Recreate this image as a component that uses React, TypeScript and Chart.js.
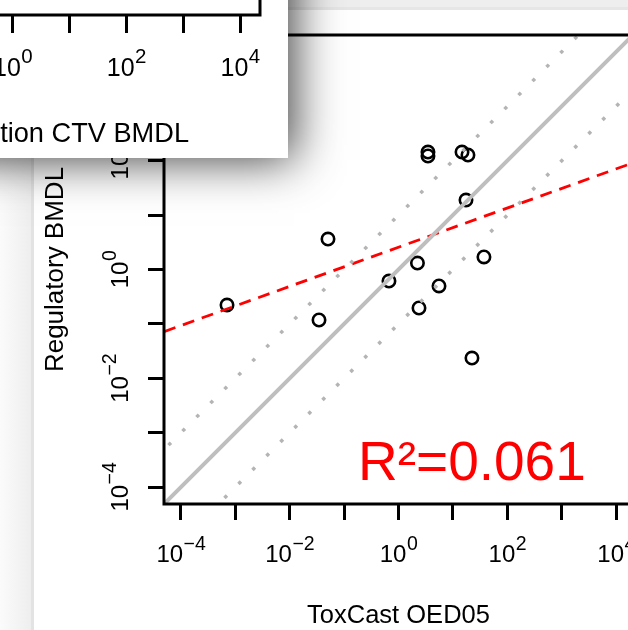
import React, { useEffect, useRef } from "react";
import { Chart, registerables } from "chart.js";

Chart.register(...registerables);

// ---------- data ----------
const toxcastOED05 = [7.05e-4, 0.0346, 0.0506, 0.668, 2.23, 2.38, 5.55, 22.4, 17.4, 37.2, 3.48, 3.48, 14.7, 18.9];
const regulatoryBMDL = [0.222, 0.118, 3.63, 0.614, 1.315, 0.196, 0.498, 0.0236, 18.9, 1.7, 144, 122, 144, 127];

// reference lines (x = y, and one decade either side)
const refLineX = [1e-5, 1e5];
const identityY = [1e-5, 1e5];
const upperDottedY = [1e-4, 1e6];
const lowerDottedY = [1e-6, 1e4];
// fitted regression line (dashed red), end values
const fitLineX = [1e-5, 1e5];
const fitLineY = [0.0407, 162];

const axisMinExp = -4.31;
const axisMaxExp = 4.31;
const decadeExponents = [-4, -3, -2, -1, 0, 1, 2, 3, 4];
const labelExponents = [-4, -2, 0, 2, 4];

const xTitle = "ToxCast OED05";
const yTitle = "Regulatory BMDL";
const rSquaredLabel = "R\u00B2=0.061";

// inset panel (partially visible)
const insetMinExp = -0.192;
const insetMaxExp = 4.349;
const insetDecades = [0, 1, 2, 3, 4];
const insetLabelExponents = [0, 2, 4];
const insetTitle = "Prediction CTV BMDL";

const FONT = '"Liberation Sans", Arial, Helvetica, sans-serif';

function expText(e: number) {
  return e < 0 ? "\u2212" + Math.abs(e) : String(e);
}

function drawPow(
  ctx: CanvasRenderingContext2D,
  e: number,
  cx: number,
  baseline: number,
  baseSize: number,
  supSize: number,
  raise: number
) {
  ctx.font = `${baseSize}px ${FONT}`;
  const wb = ctx.measureText("10").width;
  ctx.font = `${supSize}px ${FONT}`;
  const sup = expText(e);
  const ws = ctx.measureText(sup).width;
  const start = cx - (wb + ws) / 2;
  ctx.textAlign = "left";
  ctx.textBaseline = "alphabetic";
  ctx.font = `${baseSize}px ${FONT}`;
  ctx.fillText("10", start, baseline);
  ctx.font = `${supSize}px ${FONT}`;
  ctx.fillText(sup, start + wb + 0.5, baseline - raise);
}

export default function App() {
  const mainRef = useRef<HTMLCanvasElement | null>(null);
  const insetRef = useRef<HTMLCanvasElement | null>(null);

  useEffect(() => {
    document.body.style.margin = "0";
    const mainCanvas = mainRef.current!;
    const insetCanvas = insetRef.current!;

    const bgPlugin = {
      id: "bg",
      beforeDraw(chart: any) {
        const ctx: CanvasRenderingContext2D = chart.ctx;
        const w = chart.width;
        const h = chart.height;
        ctx.save();
        ctx.fillStyle = "#ffffff";
        ctx.fillRect(0, 0, w, h);
        const g = ctx.createLinearGradient(0, 0, 31, 0);
        g.addColorStop(0, "#fbfbfb");
        g.addColorStop(1, "#eeeeee");
        ctx.fillStyle = g;
        ctx.fillRect(0, 0, 31, h);
        ctx.fillStyle = "#e3e3e3";
        ctx.fillRect(31, 0, 3, h);
        ctx.fillStyle = "#eeeeee";
        ctx.fillRect(0, 0, w, 8);
        ctx.fillStyle = "#e6e6e6";
        ctx.fillRect(0, 7, w, 3);
        // shadow of the inset panel
        ctx.shadowColor = "rgba(0,0,0,0.75)";
        ctx.shadowBlur = 44;
        ctx.shadowOffsetX = 6;
        ctx.shadowOffsetY = 2;
        ctx.fillStyle = "#ffffff";
        ctx.fillRect(-300, -300, 288 + 300, 158 + 300);
        ctx.restore();
      },
    };

    const labelPlugin = {
      id: "labels",
      afterDraw(chart: any) {
        const ctx: CanvasRenderingContext2D = chart.ctx;
        const { left, right, top, bottom } = chart.chartArea;
        const xs = chart.scales.x;
        const ys = chart.scales.y;
        ctx.save();
        ctx.strokeStyle = "#000";
        ctx.lineWidth = 3;
        ctx.strokeRect(left, top, right - left, bottom - top);
        ctx.fillStyle = "#000";
        labelExponents.forEach((e) => {
          const px = xs.getPixelForValue(10 ** e);
          drawPow(ctx, e, px, bottom + 58, 24, 19.5, 12);
        });
        labelExponents.forEach((e) => {
          const py = ys.getPixelForValue(10 ** e);
          ctx.save();
          ctx.translate(left - 36, py);
          ctx.rotate(-Math.PI / 2);
          drawPow(ctx, e, 0, 0, 24, 19.5, 12);
          ctx.restore();
        });
        ctx.font = `25.5px ${FONT}`;
        ctx.textAlign = "center";
        ctx.textBaseline = "alphabetic";
        ctx.fillText(xTitle, (left + right) / 2, bottom + 119);
        ctx.save();
        ctx.translate(left - 101, (top + bottom) / 2);
        ctx.rotate(-Math.PI / 2);
        ctx.font = `26px ${FONT}`;
        ctx.fillText(yTitle, 0, 0);
        ctx.restore();
        ctx.fillStyle = "#ff0000";
        ctx.font = `55px ${FONT}`;
        ctx.textAlign = "left";
        ctx.fillText(rSquaredLabel, 358, 480);
        ctx.restore();
      },
    };

    const decadeTicks = (exps: number[]) => (scale: any) => {
      scale.ticks = exps.map((e) => ({ value: 10 ** e }));
    };

    const line = (xv: number[], yv: number[], extra: any) => ({
      type: "line",
      data: xv.map((x, i) => ({ x, y: yv[i] })),
      pointRadius: 0,
      fill: false,
      tension: 0,
      ...extra,
    });

    const mainChart = new Chart(mainCanvas, {
      type: "scatter",
      data: {
        datasets: [
          line(refLineX, upperDottedY, { borderColor: "#b4b4b4", borderWidth: 3.5, borderDash: [3.5, 16.3], borderCapStyle: "butt" }),
          line(refLineX, lowerDottedY, { borderColor: "#b4b4b4", borderWidth: 3.5, borderDash: [3.5, 16.3], borderCapStyle: "butt" }),
          line(refLineX, identityY, { borderColor: "#bebebe", borderWidth: 4 }),
          line(fitLineX, fitLineY, { borderColor: "#ff0000", borderWidth: 2.8, borderDash: [12, 8], borderCapStyle: "butt" }),
          {
            type: "scatter",
            data: toxcastOED05.map((x, i) => ({ x, y: regulatoryBMDL[i] })),
            pointRadius: 6.2,
            pointBorderWidth: 2.6,
            borderColor: "#000",
            pointBorderColor: "#000",
            backgroundColor: "rgba(0,0,0,0)",
            pointBackgroundColor: "rgba(0,0,0,0)",
            pointStyle: "circle",
          },
        ] as any,
      },
      options: {
        responsive: false,
        animation: false,
        events: [],
        layout: { padding: { left: 148, top: 35, right: 67, bottom: 110 } },
        plugins: { legend: { display: false }, tooltip: { enabled: false } },
        scales: {
          x: {
            type: "logarithmic",
            position: "bottom",
            min: 10 ** axisMinExp,
            max: 10 ** axisMaxExp,
            afterBuildTicks: decadeTicks(decadeExponents),
            ticks: { display: false },
            grid: { display: true, drawOnChartArea: false, drawTicks: true, tickLength: 16, tickWidth: 3, tickColor: "#000" },
            border: { display: false },
          },
          y: {
            type: "logarithmic",
            position: "left",
            min: 10 ** axisMinExp,
            max: 10 ** axisMaxExp,
            afterBuildTicks: decadeTicks(decadeExponents),
            ticks: { display: false },
            grid: { display: true, drawOnChartArea: false, drawTicks: true, tickLength: 16, tickWidth: 3, tickColor: "#000" },
            border: { display: false },
          },
        },
      } as any,
      plugins: [bgPlugin, labelPlugin],
    });

    const insetBg = {
      id: "insetBg",
      beforeDraw(chart: any) {
        const ctx: CanvasRenderingContext2D = chart.ctx;
        ctx.save();
        ctx.fillStyle = "#ffffff";
        ctx.fillRect(0, 0, chart.width, chart.height);
        ctx.restore();
      },
    };
    const insetLabels = {
      id: "insetLabels",
      afterDraw(chart: any) {
        const ctx: CanvasRenderingContext2D = chart.ctx;
        const { left, right, top, bottom } = chart.chartArea;
        const xs = chart.scales.x;
        ctx.save();
        ctx.strokeStyle = "#000";
        ctx.lineWidth = 3;
        ctx.beginPath();
        ctx.moveTo(left - 5, bottom);
        ctx.lineTo(right, bottom);
        ctx.lineTo(right, top - 5);
        ctx.stroke();
        ctx.fillStyle = "#000";
        insetLabelExponents.forEach((e) => {
          drawPow(ctx, e, xs.getPixelForValue(10 ** e), bottom + 61, 25, 20.5, 13);
        });
        ctx.font = `27.2px ${FONT}`;
        ctx.textAlign = "right";
        ctx.textBaseline = "alphabetic";
        ctx.fillText(insetTitle, 189, bottom + 127);
        ctx.restore();
      },
    };

    const insetChart = new Chart(insetCanvas, {
      type: "scatter",
      data: { datasets: [] },
      options: {
        responsive: false,
        animation: false,
        events: [],
        layout: { padding: { left: 0, top: 0, right: 28, bottom: 125 } },
        plugins: { legend: { display: false }, tooltip: { enabled: false } },
        scales: {
          x: {
            type: "logarithmic",
            position: "bottom",
            min: 10 ** insetMinExp,
            max: 10 ** insetMaxExp,
            afterBuildTicks: decadeTicks(insetDecades),
            ticks: { display: false },
            grid: { display: true, drawOnChartArea: false, drawTicks: true, tickLength: 18, tickWidth: 3, tickColor: "#000" },
            border: { display: false },
          },
          y: { display: false, min: 0, max: 1 },
        },
      } as any,
      plugins: [insetBg, insetLabels],
    });

    return () => {
      mainChart.destroy();
      insetChart.destroy();
    };
  }, []);

  return (
    <div style={{ position: "relative", width: 628, height: 630, overflow: "hidden", background: "#fff" }}>
      <canvas ref={mainRef} width={700} height={630} style={{ position: "absolute", left: 0, top: 0, display: "block" }} />
      <canvas ref={insetRef} width={288} height={158} style={{ position: "absolute", left: 0, top: 0, display: "block" }} />
    </div>
  );
}
